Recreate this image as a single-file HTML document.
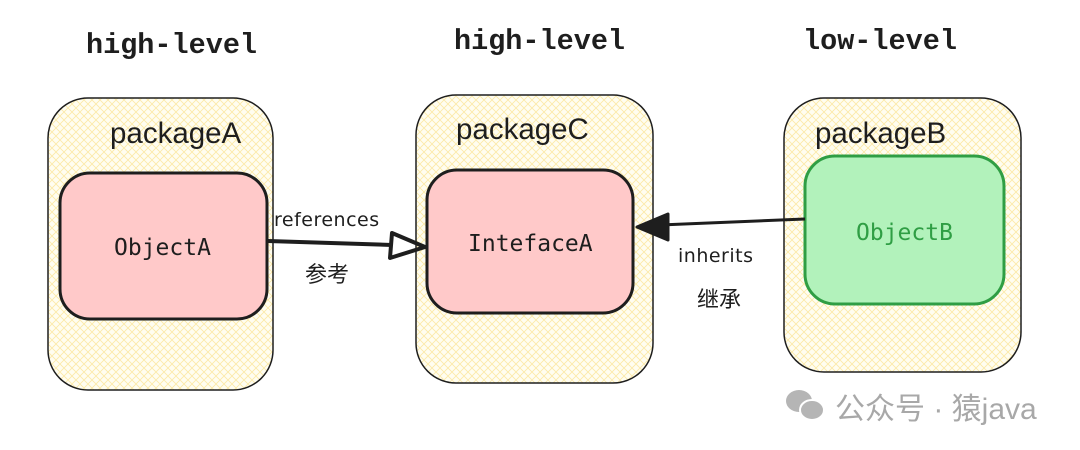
<!DOCTYPE html>
<html><head><meta charset="utf-8"><style>
html,body{margin:0;padding:0;background:#fff;width:1080px;height:450px;overflow:hidden}
</style></head><body>
<svg width="1080" height="450" xmlns="http://www.w3.org/2000/svg">
<defs>
<pattern id="hatch" width="8" height="8" patternUnits="userSpaceOnUse">
<rect width="8" height="8" fill="#fffdf0"/>
<path d="M0 0L8 8M8 0L0 8" stroke="#fbe9a6" stroke-width="0.8"/>
</pattern>
</defs>
<g font-family="Liberation Mono, monospace" font-weight="bold" font-size="28.5" fill="#1e1e1e">
<text x="86" y="53">high-level</text>
<text x="454" y="49">high-level</text>
<text x="803" y="49">low-level</text>
</g>
<g fill="url(#hatch)" stroke="#1e1e1e" stroke-width="1.5">
<rect x="48" y="98" width="225" height="292" rx="40"/>
<rect x="416" y="95" width="237" height="288" rx="40"/>
<rect x="784" y="98" width="237" height="274" rx="40"/>
</g>
<g font-family="Liberation Sans, sans-serif" font-size="29.5" fill="#1e1e1e">
<text x="110" y="143">packageA</text>
<text x="456" y="139">packageC</text>
<text x="815" y="143">packageB</text>
</g>
<rect x="60" y="173" width="207" height="146" rx="30" fill="#ffc9c9" stroke="#1e1e1e" stroke-width="3"/>
<rect x="427" y="170" width="206" height="143" rx="30" fill="#ffc9c9" stroke="#1e1e1e" stroke-width="3"/>
<rect x="805" y="156" width="199" height="148" rx="30" fill="#b2f2bb" stroke="#2f9e44" stroke-width="3"/>
<g font-family="DejaVu Sans Mono, monospace" font-size="23">
<text x="114" y="255" fill="#1e1e1e">ObjectA</text>
<text x="468" y="251" fill="#1e1e1e">IntefaceA</text>
<text x="856" y="240" fill="#2f9e44">ObjectB</text>
</g>
<path d="M268 241 L392 245" stroke="#1e1e1e" stroke-width="4" fill="none"/>
<path d="M392 233 L425 247 L390 258 Z" fill="none" stroke="#1e1e1e" stroke-width="4" stroke-linejoin="round"/>
<path d="M805 219 L660 225" stroke="#1e1e1e" stroke-width="3" fill="none"/>
<path d="M637 227 L668 214 L668 240 Z" fill="#1e1e1e" stroke="#1e1e1e" stroke-width="3" stroke-linejoin="round"/>
<g font-family="DejaVu Sans, sans-serif" font-size="19" fill="#1e1e1e" letter-spacing="0.5">
<text x="274" y="226">references</text>
<text x="678" y="262">inherits</text>
</g>
<g font-family="Liberation Sans, Noto Sans CJK SC, sans-serif" font-size="22" fill="#1e1e1e">
<text x="305" y="282">参考</text>
<text x="697" y="307">继承</text>
</g>
<g fill="#b5b5b5">
<ellipse cx="799" cy="401" rx="13" ry="11"/>
<ellipse cx="812" cy="410" rx="12" ry="10" stroke="#fff" stroke-width="2"/>
</g>
<text x="835" y="419" font-family="Liberation Sans, Noto Sans CJK SC, sans-serif" font-size="30" fill="#a8a8a8">公众号 · 猿java</text>
</svg>
</body></html>
